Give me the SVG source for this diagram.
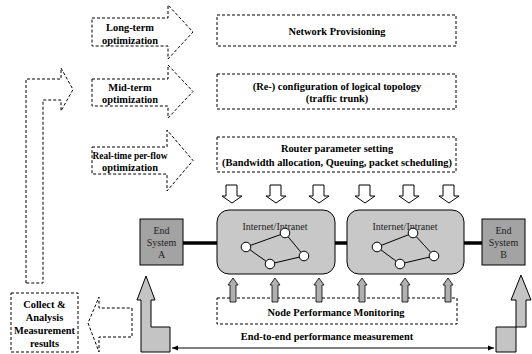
<svg xmlns="http://www.w3.org/2000/svg" width="532" height="354" viewBox="0 0 532 354">
<defs>
<style>
.d{fill:#fff;stroke:#000;stroke-width:1;stroke-dasharray:3 2}
.t{font-family:"Liberation Serif","Times New Roman",serif;font-size:10.4px;font-weight:bold;fill:#000;text-anchor:middle}
.r{font-family:"Liberation Serif","Times New Roman",serif;font-size:10px;fill:#222;text-anchor:middle}
.cloud{fill:#c8c8c8;stroke:#000;stroke-width:1}
.es{fill:#a3a3a3;stroke:#000;stroke-width:1}
.big{fill:#c4c4c4;stroke:#000;stroke-width:1}
.up{fill:#b0b0b0;stroke:#000;stroke-width:0.8}
.dn{fill:#fff;stroke:#000;stroke-width:1}
.nd{fill:#fff;stroke:#000;stroke-width:1}
.ln{stroke:#000;stroke-width:1;fill:none}
.thick{stroke:#000;stroke-width:3.5}
</style>
<marker id="ah" viewBox="0 0 10 10" refX="10" refY="5" markerWidth="6" markerHeight="6" orient="auto-start-reverse" markerUnits="userSpaceOnUse">
<path d="M0,1 L10,5 L0,9 Z" fill="#000"/>
</marker>
<path id="dnA" d="M-6,0 H5 V11 H10 L0,18 L-10,11 H-6 Z"/>
<path id="upA" d="M-3,24 V7 H-5 L0,0 L5,7 H3 V24 Z"/>
</defs>

<g id="long-term">
<path class="d" d="M92,18 H168 V5 L193,32 L168,59 V46 H92 Z"/>
<text class="t" x="130" y="31">Long-term</text>
<text class="t" x="130" y="44">optimization</text>
</g>
<g id="mid-term">
<path class="d" d="M92,79 H168 V65 L193,91.5 L168,118 V106 H92 Z"/>
<text class="t" x="130" y="91">Mid-term</text>
<text class="t" x="130" y="103">optimization</text>
</g>
<g id="real-time">
<path class="d" d="M92,147 H167 V130 L193,160.5 L167,191 V174 H92 Z"/>
<text class="t" x="130" y="159" style="font-size:9.4px">Real-time per-flow</text>
<text class="t" x="130" y="171">optimization</text>
</g>

<g id="network-provisioning">
<rect class="d" x="217" y="15" width="239" height="31"/>
<text class="t" x="337" y="35">Network Provisioning</text>
</g>
<g id="logical-topology">
<rect class="d" x="217" y="74" width="239" height="35"/>
<text class="t" x="337" y="90">(Re-) configuration of logical topology</text>
<text class="t" x="337" y="102">(traffic trunk)</text>
</g>
<g id="router-setting">
<rect class="d" x="217" y="137" width="239" height="35"/>
<text class="t" x="337" y="152">Router parameter setting</text>
<text class="t" x="337" y="166">(Bandwidth allocation, Queuing, packet scheduling)</text>
</g>

<g id="feedback-arrow">
<path class="d" d="M26,283 V79 H61 V68 L73,89.5 L61,111 V100 H43 V283 Z"/>
</g>

<g id="collect-analysis">
<rect class="d" x="11" y="293" width="67" height="59"/>
<text class="t" x="44.5" y="308">Collect &amp;</text>
<text class="t" x="44.5" y="321">Analysis</text>
<text class="t" x="44.5" y="334">Measurement</text>
<text class="t" x="44.5" y="347">results</text>
</g>
<g id="collect-arrow">
<path class="d" d="M132,308 V337 H99 V352 L88,323 L99,297 V308 Z"/>
</g>

<g id="node-monitoring">
<rect class="d" x="217" y="298" width="240" height="26"/>
<text class="t" x="336" y="316">Node Performance Monitoring</text>
</g>

<g id="connectors">
<line class="thick" x1="183" y1="243" x2="217" y2="243"/>
<line class="thick" x1="335" y1="243" x2="347" y2="243"/>
<line class="thick" x1="464" y1="243" x2="482" y2="243"/>
<line class="ln" x1="172" y1="348" x2="494" y2="348" marker-start="url(#ah)" marker-end="url(#ah)"/>
<g class="dn">
<use href="#dnA" x="232" y="185"/>
<use href="#dnA" x="276" y="185"/>
<use href="#dnA" x="319" y="185"/>
<use href="#dnA" x="365" y="185"/>
<use href="#dnA" x="409" y="185"/>
<use href="#dnA" x="449" y="185"/>
</g>
<g class="up">
<use href="#upA" x="233" y="278"/>
<use href="#upA" x="275" y="278"/>
<use href="#upA" x="319" y="278"/>
<use href="#upA" x="362" y="278"/>
<use href="#upA" x="405" y="278"/>
<use href="#upA" x="448" y="278"/>
</g>
<path class="big" d="M146,276 L155,300 H151 V327 H170 V352 H141 V300 H137 Z"/>
<path class="big" d="M521,275 L531,300 H526 V327 H496 V352 H516 V300 H511 Z"/>
</g>

<g id="end-system-a">
<rect class="es" x="140" y="219" width="43" height="46"/>
<text class="r" x="161.5" y="234">End</text>
<text class="r" x="161.5" y="246">System</text>
<text class="r" x="161.5" y="258">A</text>
</g>
<g id="end-system-b">
<rect class="es" x="482" y="219" width="43" height="46"/>
<text class="r" x="503.5" y="234">End</text>
<text class="r" x="503.5" y="246">System</text>
<text class="r" x="503.5" y="258">B</text>
</g>

<g id="internet-1">
<rect class="cloud" x="217" y="210" width="118" height="64" rx="12"/>
<text class="r" x="275" y="230">Internet/Intranet</text>
<path class="ln" d="M246,247 L285,233 L304,256 L270,264 Z"/>
<circle class="nd" cx="246" cy="247" r="4.8"/>
<circle class="nd" cx="285" cy="233" r="4.8"/>
<circle class="nd" cx="304" cy="256" r="4.8"/>
<circle class="nd" cx="270" cy="264" r="4.8"/>
</g>
<g id="internet-2">
<rect class="cloud" x="347" y="210" width="117" height="64" rx="12"/>
<text class="r" x="405" y="230">Internet/Intranet</text>
<path class="ln" d="M377,247 L413,233 L434,256 L400,264 Z"/>
<circle class="nd" cx="377" cy="247" r="4.8"/>
<circle class="nd" cx="413" cy="233" r="4.8"/>
<circle class="nd" cx="434" cy="256" r="4.8"/>
<circle class="nd" cx="400" cy="264" r="4.8"/>
</g>

<g id="e2e-label">
<text class="t" x="327" y="340">End-to-end performance measurement</text>
</g>
</svg>
